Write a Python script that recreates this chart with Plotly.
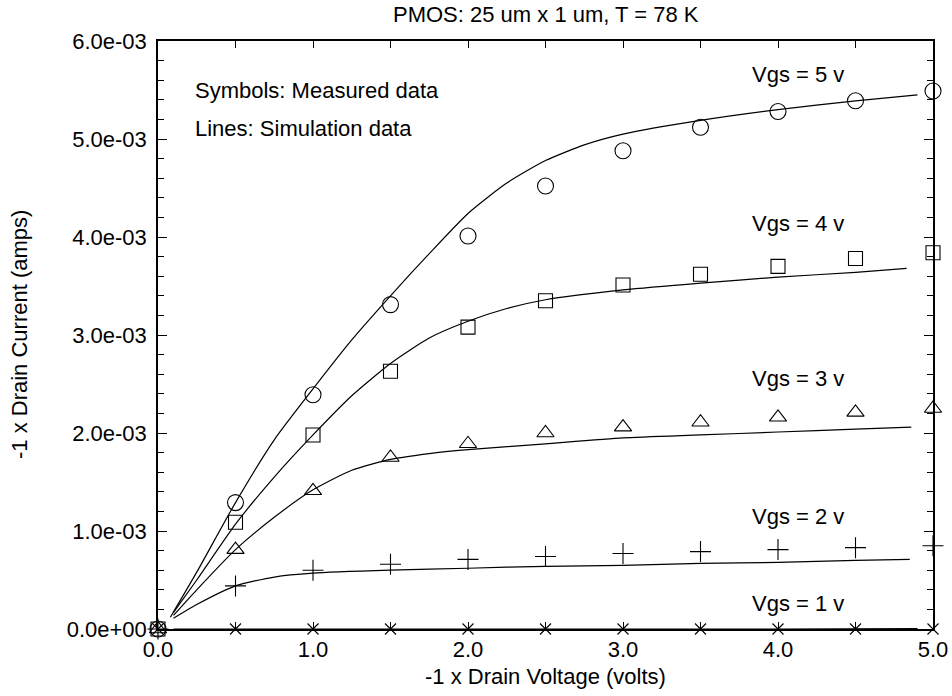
import plotly.graph_objects as go

# ---------------- data ----------------
vd_meas = [0.0, 0.5, 1.0, 1.5, 2.0, 2.5, 3.0, 3.5, 4.0, 4.5, 5.0]
id_meas_vgs5 = [0.0, 1.29e-3, 2.39e-3, 3.31e-3, 4.01e-3, 4.52e-3, 4.88e-3, 5.12e-3, 5.28e-3, 5.39e-3, 5.49e-3]
id_meas_vgs4 = [0.0, 1.09e-3, 1.98e-3, 2.63e-3, 3.08e-3, 3.35e-3, 3.51e-3, 3.62e-3, 3.70e-3, 3.78e-3, 3.84e-3]
id_meas_vgs3 = [0.0, 0.81e-3, 1.41e-3, 1.75e-3, 1.89e-3, 2.00e-3, 2.06e-3, 2.11e-3, 2.16e-3, 2.21e-3, 2.25e-3]
id_meas_vgs2 = [0.0, 0.44e-3, 0.60e-3, 0.66e-3, 0.71e-3, 0.74e-3, 0.77e-3, 0.79e-3, 0.81e-3, 0.83e-3, 0.85e-3]
id_meas_vgs1 = [0.0, 0.0, 0.0, 0.0, 0.0, 0.0, 0.0, 0.0, 0.0, 0.0, 0.0]

vd_sim_vgs5 = [0.08, 0.25, 0.5, 0.75, 1.0, 1.25, 1.5, 1.75, 2.0, 2.25, 2.5, 2.75, 3.0, 3.5, 4.0, 4.5, 4.9]
id_sim_vgs5 = [0.12e-3, 0.58e-3, 1.29e-3, 1.93e-3, 2.45e-3, 2.95e-3, 3.40e-3, 3.83e-3, 4.24e-3, 4.55e-3, 4.78e-3, 4.94e-3, 5.05e-3, 5.19e-3, 5.30e-3, 5.39e-3, 5.45e-3]
vd_sim_vgs4 = [0.1, 0.25, 0.5, 0.75, 1.0, 1.25, 1.5, 1.75, 2.0, 2.25, 2.5, 3.0, 3.5, 4.0, 4.5, 4.83]
id_sim_vgs4 = [0.17e-3, 0.50e-3, 1.07e-3, 1.55e-3, 1.98e-3, 2.38e-3, 2.71e-3, 2.97e-3, 3.14e-3, 3.27e-3, 3.36e-3, 3.46e-3, 3.53e-3, 3.59e-3, 3.64e-3, 3.68e-3]
vd_sim_vgs3 = [0.1, 0.25, 0.5, 0.75, 1.0, 1.25, 1.5, 1.75, 2.0, 2.5, 3.0, 3.5, 4.0, 4.5, 4.86]
id_sim_vgs3 = [0.14e-3, 0.40e-3, 0.81e-3, 1.14e-3, 1.42e-3, 1.62e-3, 1.73e-3, 1.79e-3, 1.83e-3, 1.89e-3, 1.95e-3, 1.98e-3, 2.01e-3, 2.04e-3, 2.06e-3]
vd_sim_vgs2 = [0.1, 0.25, 0.5, 0.75, 1.0, 1.5, 2.0, 2.5, 3.0, 3.5, 4.0, 4.5, 4.85]
id_sim_vgs2 = [0.11e-3, 0.25e-3, 0.44e-3, 0.53e-3, 0.57e-3, 0.60e-3, 0.62e-3, 0.64e-3, 0.65e-3, 0.67e-3, 0.68e-3, 0.70e-3, 0.71e-3]
vd_sim_vgs1 = [0.1, 1.0, 2.0, 3.0, 4.0, 4.9]
id_sim_vgs1 = [0.0, 0.0, 0.0, 0.0, 0.0, 0.005e-3]

y_tick_vals = [0.0, 1e-3, 2e-3, 3e-3, 4e-3, 5e-3, 6e-3]
y_tick_text = ["0.0e+00", "1.0e-03", "2.0e-03", "3.0e-03", "4.0e-03", "5.0e-03", "6.0e-03"]
x_tick_vals = [0, 1, 2, 3, 4, 5]
x_tick_text = ["0.0", "1.0", "2.0", "3.0", "4.0", "5.0"]

curve_labels = ["Vgs = 5 v", "Vgs = 4 v", "Vgs = 3 v", "Vgs = 2 v", "Vgs = 1 v"]
label_x = [3.82, 3.82, 3.82, 3.82, 3.82]
label_y = [5.66e-3, 4.14e-3, 2.56e-3, 1.15e-3, 0.265e-3]

title_text = "PMOS: 25 um x 1 um, T = 78 K"
x_title = "-1 x Drain Voltage (volts)"
y_title = "-1 x Drain Current (amps)"
note_lines = ["Symbols: Measured data", "Lines: Simulation data"]
note_y = [5.5e-3, 5.11e-3]
note_x = 0.226

# ---------------- figure ----------------
FONT = "Liberation Sans, Arial, Helvetica, sans-serif"
FS = 22
W, H = 952, 696
ML, MT = 158, 41
MR = W - 933
MB = H - 629
PW, PH = W - ML - MR, H - MT - MB

fig = go.Figure()

sims = [(vd_sim_vgs5, id_sim_vgs5), (vd_sim_vgs4, id_sim_vgs4), (vd_sim_vgs3, id_sim_vgs3),
        (vd_sim_vgs2, id_sim_vgs2), (vd_sim_vgs1, id_sim_vgs1)]
for xs, ys in sims:
    fig.add_trace(go.Scatter(x=xs, y=ys, mode="lines",
                             line=dict(color="black", width=1.2, shape="spline", smoothing=0.6),
                             showlegend=False, hoverinfo="skip"))

meas = [(id_meas_vgs5, "circle-open", 16), (id_meas_vgs4, "square-open", 14),
        (id_meas_vgs3, "triangle-up-open", 15), (id_meas_vgs2, "cross-thin-open", 15),
        (id_meas_vgs1, "x-thin-open", 11)]
for ys, sym, sz in meas:
    fig.add_trace(go.Scatter(x=vd_meas, y=ys, mode="markers", cliponaxis=False,
                             marker=dict(symbol=sym, size=sz, color="black",
                                         line=dict(color="black", width=1.1)),
                             showlegend=False))

txtfont = dict(family=FONT, size=FS, color="black")
annotations = []
for t, xx, yy in zip(curve_labels, label_x, label_y):
    annotations.append(dict(x=xx, y=yy, xref="x", yref="y", text=t, showarrow=False,
                            xanchor="left", yanchor="middle", font=txtfont))
for t, yy in zip(note_lines, note_y):
    annotations.append(dict(x=note_x, y=yy, xref="x", yref="y", text=t, showarrow=False,
                            xanchor="left", yanchor="middle", font=txtfont))

def px_to_paper_x(px):
    return (px - ML) / PW

def px_to_paper_y(py):
    return 1 - (py - MT) / PH

annotations.append(dict(x=0.5, y=px_to_paper_y(676), xref="paper", yref="paper", text=x_title,
                        showarrow=False, xanchor="center", yanchor="middle", font=txtfont))
annotations.append(dict(x=px_to_paper_x(19), y=0.5, xref="paper", yref="paper", text=y_title,
                        showarrow=False, xanchor="center", yanchor="middle", textangle=-90, font=txtfont))
annotations.append(dict(x=0.5, y=px_to_paper_y(14), xref="paper", yref="paper", text=title_text,
                        showarrow=False, xanchor="center", yanchor="middle", font=txtfont))

fig.update_layout(
    width=W, height=H,
    margin=dict(l=ML, r=MR, t=MT, b=MB, autoexpand=False),
    paper_bgcolor="white", plot_bgcolor="white",
    font=txtfont,
    annotations=annotations,
    showlegend=False,
)

fig.update_xaxes(
    range=[0, 5], tickmode="array", tickvals=x_tick_vals, ticktext=x_tick_text, automargin=False,
    showgrid=False, zeroline=False, showline=True, linecolor="black", linewidth=1.5, mirror="ticks",
    ticks="inside", ticklen=7, tickwidth=1, tickcolor="black", ticklabelstandoff=0,
    minor=dict(dtick=0.5, tick0=0, ticks="inside", ticklen=7, tickwidth=1, tickcolor="black", showgrid=False),
    tickfont=txtfont,
)
fig.update_yaxes(
    range=[0, 0.006], tickmode="array", tickvals=y_tick_vals, ticktext=y_tick_text, automargin=False,
    showgrid=False, zeroline=False, showline=True, linecolor="black", linewidth=1.5, mirror="ticks",
    ticks="inside", ticklen=9, tickwidth=1, tickcolor="black", ticklabelstandoff=5,
    minor=dict(dtick=0.0002, tick0=0, ticks="inside", ticklen=6, tickwidth=1, tickcolor="black", showgrid=False),
    tickfont=txtfont,
)

fig.write_html("out.html", config={"displayModeBar": False},
               post_script="document.body.style.margin='0px';")
